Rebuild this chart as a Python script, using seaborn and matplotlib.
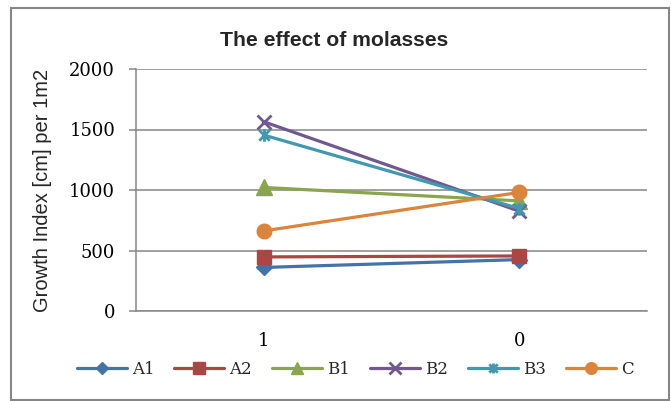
import matplotlib
matplotlib.use("Agg")
import matplotlib.pyplot as plt
from matplotlib.path import Path
from matplotlib.patches import Rectangle
import seaborn as sns
import pandas as pd

categories = ["1", "0"]
series_names = ["A1", "A2", "B1", "B2", "B3", "C"]
A1 = [360, 425]
A2 = [447, 455]
B1 = [1021, 910]
B2 = [1564, 825]
B3 = [1454, 847]
C = [662, 980]
yticks = [0, 500, 1000, 1500, 2000]
title = "The effect of molasses"
ylabel = "Growth Index [cm] per 1m2"

values = {"A1": A1, "A2": A2, "B1": B1, "B2": B2, "B3": B3, "C": C}
colors = {"A1": "#4572A7", "A2": "#AA4643", "B1": "#89A54E",
          "B2": "#71588F", "B3": "#4198AF", "C": "#DB843D"}
asterisk = Path([(-1, -1), (1, 1), (-1, 1), (1, -1), (0, -1.2), (0, 1.2)],
                [Path.MOVETO, Path.LINETO, Path.MOVETO, Path.LINETO, Path.MOVETO, Path.LINETO])
markers = {"A1": "D", "A2": "s", "B1": "^", "B2": "x", "B3": asterisk, "C": "o"}
msizes = {"A1": 8, "A2": 10, "B1": 11, "B2": 10, "B3": 9, "C": 10.5}

sns.set_theme(style="white")
plt.rcParams["font.family"] = ["DejaVu Serif"]

fig = plt.figure(figsize=(6.71, 4.01), dpi=100)
ax = fig.add_axes([136 / 671, 1 - 311 / 401, (647 - 136) / 671, (311 - 69) / 401])

grid_c = "#868686"
for name in series_names:
    df = pd.DataFrame({"x": list(range(len(categories))), "y": values[name]})
    col = colors[name]
    filled = name not in ("B2", "B3")
    sns.lineplot(data=df, x="x", y="y", ax=ax, color=col, linewidth=2.3,
                 marker=markers[name], markersize=msizes[name],
                 markeredgecolor=col, markerfacecolor=col if filled else "none",
                 markeredgewidth=1.0 if filled else 2.0, label=name, zorder=3)

ax.set_xlim(-0.5, len(categories) - 0.5)
ax.set_ylim(0, 2000)
ax.set_xticks(range(len(categories)))
ax.set_xticklabels(categories)
ax.set_xticks([-0.5, 0.5, 1.5], minor=True)
ax.set_yticks(yticks)
ax.set_yticklabels([str(v) for v in yticks])
ax.tick_params(axis="x", which="major", length=0, pad=15, labelsize=13, labelcolor="black")
ax.tick_params(axis="x", which="minor", length=5, width=1.1, color=grid_c, direction="out")
ax.tick_params(axis="y", length=5, width=1.1, color=grid_c, direction="out", pad=10,
               labelsize=13, labelcolor="black", left=True)
ax.set_xlabel("")
ax.set_ylabel("")
ax.grid(axis="y", color=grid_c, linewidth=1.1)
ax.grid(axis="x", visible=False)
ax.set_axisbelow(True)
for s in ("top", "right"):
    ax.spines[s].set_visible(False)
for s in ("left", "bottom"):
    ax.spines[s].set_color(grid_c)
    ax.spines[s].set_linewidth(1.1)

handles, labels = ax.get_legend_handles_labels()
ax.get_legend().remove()
fig.legend(handles, labels, loc="center", bbox_to_anchor=(355 / 671, 1 - 369 / 401),
           ncol=6, frameon=False, handlelength=3.0, handletextpad=0.3,
           columnspacing=1.2, markerscale=0.8, prop={"family": "DejaVu Serif", "size": 12})

fig.text(334 / 671, 1 - 41 / 401, title, ha="center", va="center",
         family="Liberation Sans", fontweight="bold", fontsize=15.2)
fig.text(43 / 671, 1 - 190 / 401, ylabel, ha="center", va="center", rotation=90,
         family="Liberation Sans", fontsize=14.5)

fig.patches.append(Rectangle((11 / 671, 1 / 401), 658 / 671, 392 / 401,
                             transform=fig.transFigure, fill=False,
                             edgecolor=grid_c, linewidth=1.5))

fig.savefig("out.png", dpi=100)
